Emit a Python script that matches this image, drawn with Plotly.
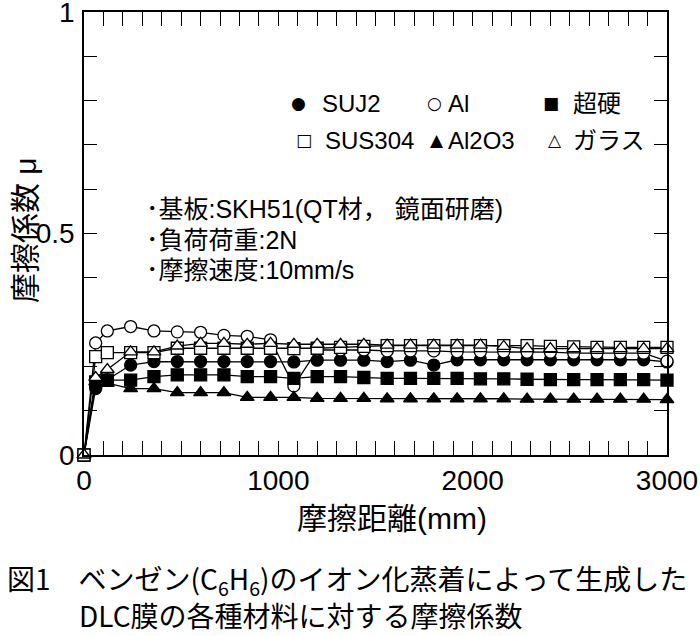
import plotly.graph_objects as go

# ---------------- data ----------------
distance_mm = [0, 60, 120, 240, 360, 480, 600, 720, 840, 960, 1080, 1200, 1320, 1440,
               1560, 1680, 1800, 1920, 2040, 2160, 2280, 2400, 2520, 2640, 2760, 2880, 3000]

mu_SUJ2 = [0, 0.150, 0.170, 0.203, 0.211, 0.211, 0.211, 0.211, 0.211, 0.211, 0.210, 0.214, 0.214, 0.214,
           0.211, 0.214, 0.203, 0.215, 0.215, 0.215, 0.215, 0.215, 0.215, 0.215, 0.215, 0.215, 0.210]
mu_Al = [0, 0.253, 0.280, 0.290, 0.280, 0.278, 0.277, 0.270, 0.268, 0.260, 0.156, 0.237, 0.237, 0.237,
         0.235, 0.235, 0.235, 0.233, 0.233, 0.233, 0.232, 0.232, 0.230, 0.230, 0.230, 0.230, 0.212]
mu_carbide = [0, 0.165, 0.169, 0.169, 0.177, 0.181, 0.181, 0.181, 0.177, 0.177, 0.173, 0.177, 0.177, 0.175,
              0.173, 0.173, 0.173, 0.173, 0.172, 0.172, 0.171, 0.170, 0.170, 0.170, 0.170, 0.170, 0.169]
mu_Al2O3 = [0, 0.165, 0.162, 0.150, 0.150, 0.141, 0.141, 0.141, 0.130, 0.130, 0.130, 0.128, 0.128, 0.128,
            0.127, 0.127, 0.127, 0.127, 0.127, 0.127, 0.126, 0.126, 0.126, 0.126, 0.126, 0.126, 0.125]
mu_SUS304 = [0, 0.222, 0.231, 0.231, 0.231, 0.241, 0.241, 0.241, 0.241, 0.241, 0.240, 0.241, 0.243, 0.245,
             0.247, 0.247, 0.247, 0.247, 0.247, 0.247, 0.247, 0.245, 0.244, 0.243, 0.243, 0.243, 0.243]
mu_glass = [0, 0.175, 0.193, 0.233, 0.233, 0.246, 0.252, 0.252, 0.250, 0.252, 0.250, 0.250, 0.250, 0.250,
            0.248, 0.248, 0.248, 0.248, 0.248, 0.245, 0.240, 0.240, 0.240, 0.240, 0.240, 0.240, 0.240]

series_names = ["SUJ2", "Al", "超硬", "Al2O3", "SUS304", "ガラス"]
x_labels = {0: "0", 1000: "1000", 2000: "2000", 3000: "3000"}
y_labels = {0: "0", 5: "0.5", 10: "1"}

condition_lines = ["･基板:SKH51(QT材， 鏡面研磨)", "･負荷荷重:2N", "･摩擦速度:10mm/s"]
caption_1 = "図1　ベンゼン(C<sub>6</sub>H<sub>6</sub>)のイオン化蒸着によって生成した"
caption_2 = "DLC膜の各種材料に対する摩擦係数"

# tick positions (every 100 mm on x, every 0.1 on y; labels only at the listed ones)
x_tick_vals = list(range(0, 3001, 100))
x_tick_text = [x_labels.get(v, "") for v in x_tick_vals]
y_tick_vals = [i / 10 for i in range(11)]
y_tick_text = [y_labels.get(i, "") for i in range(11)]

# ---------------- figure ----------------
W, H = 700, 636
L, R, T, B = 84, 33, 12, 181
PW, PH = W - L - R, H - T - B

def px(xp):
    return (xp - L) / PW

def py(yp):
    return (H - B - yp) / PH

JP = "Noto Sans CJK JP"
LAT = "Liberation Sans, Arial, sans-serif"
MIX = "Liberation Sans, Noto Sans CJK JP, sans-serif"

styles = [
    (mu_SUJ2, "circle", "black", 12),
    (mu_Al, "circle", "white", 12),
    (mu_carbide, "square", "black", 12),
    (mu_Al2O3, "triangle-up", "black", 12),
    (mu_SUS304, "square", "white", 12),
    (mu_glass, "triangle-up", "white", 12),
]

fig = go.Figure()
for (vals, sym, fill, size), name in zip(styles, series_names):
    fig.add_trace(go.Scatter(
        x=distance_mm, y=vals, name=name, mode="lines+markers",
        line=dict(color="black", width=1.3),
        marker=dict(symbol=sym, size=size, color=fill, line=dict(color="black", width=1.3)),
        cliponaxis=False, showlegend=False,
    ))

fig.update_layout(
    width=W, height=H,
    margin=dict(l=L, r=R, t=T, b=B, autoexpand=False),
    paper_bgcolor="white", plot_bgcolor="white",
    font=dict(family=LAT, color="black"),
    xaxis=dict(
        range=[0, 3000], showgrid=False, zeroline=False, automargin=False,
        showline=True, linecolor="black", linewidth=1.5, mirror="ticks",
        ticks="inside", ticklen=14, tickwidth=1.3, tickcolor="black",
        tickmode="array", tickvals=x_tick_vals, ticktext=x_tick_text,
        ticklabeloverflow="allow",
        tickfont=dict(family=LAT, size=28),
    ),
    yaxis=dict(
        range=[0, 1], showgrid=False, zeroline=False, automargin=False,
        showline=True, linecolor="black", linewidth=1.5, mirror="ticks",
        ticks="inside", ticklen=13, tickwidth=1.3, tickcolor="black",
        tickmode="array", tickvals=y_tick_vals, ticktext=y_tick_text,
        ticklabeloverflow="allow",
        tickfont=dict(family=LAT, size=28), ticklabelstandoff=2,
    ),
)

ann = []
def add_text(text, xp, yp, size, family=JP, xanchor="left", angle=0):
    ann.append(dict(text=text, x=px(xp), y=py(yp), xref="paper", yref="paper",
                    xanchor=xanchor, yanchor="middle", showarrow=False, textangle=angle,
                    borderpad=0, font=dict(family=family, size=size, color="black")))

# axis titles
add_text("摩擦距離(mm)", 392, 518, 30, family=MIX, xanchor="center")
add_text("摩擦係数 μ", 25, 230, 30, family=MIX, xanchor="center", angle=-90)

# legend (symbols + labels)
legend_items = [
    ("●", 298, 103, series_names[0], 321),
    ("○", 435, 103, series_names[1], 447),
    ("■", 551, 103, series_names[2], 572),
    ("□", 304, 140, series_names[4], 324),
    ("▲", 437, 140, series_names[3], 447),
    ("△", 555, 140, series_names[5], 572),
]
for sym, sx, sy, label, lx in legend_items:
    add_text(sym, sx, sy, 17, family="DejaVu Sans", xanchor="center")
    add_text(label, lx, sy, 24, family=MIX)

# test conditions
for i, line in enumerate(condition_lines):
    add_text(line, 145, 209 + i * 30.5, 25, family=MIX)

# caption
add_text(caption_1, 6, 580, 28)
add_text(caption_2, 78, 615, 28)

fig.update_layout(annotations=ann)
fig.write_html("out.html", config={"displayModeBar": False},
               post_script="document.body.style.margin='0';document.body.style.overflow='hidden';")
